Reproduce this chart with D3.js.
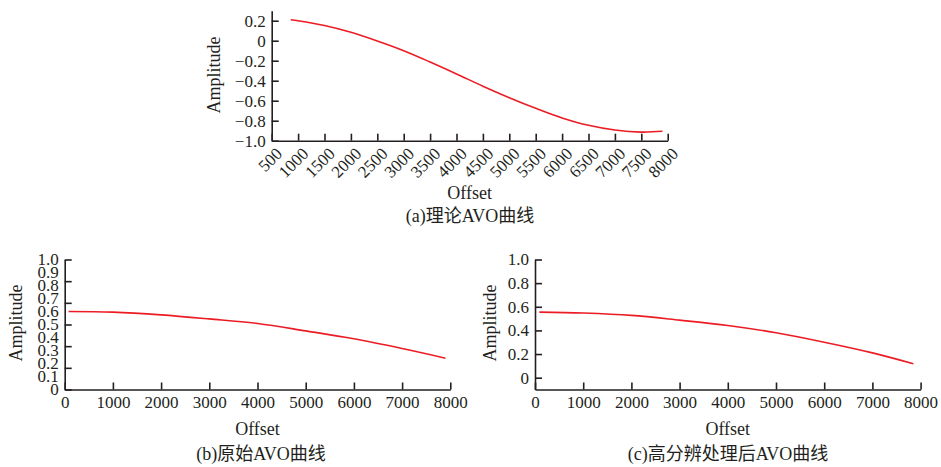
<!DOCTYPE html>
<html>
<head>
<meta charset="utf-8">
<script src="https://cdn.jsdelivr.net/npm/d3@7"></script>
<style>
  html, body { margin: 0; padding: 0; background: #fff; }
  svg { display: block; }
  text { font-family: "Liberation Serif", "Times New Roman", "Noto Sans CJK SC", serif; fill: #231f20; }
</style>
</head>
<body>
<svg id="chart" width="941" height="467"></svg>
<script>
// (a) theoretical AVO curve
const offsetsA = [860, 1000, 1500, 2000, 2500, 3000, 3500, 4000, 4500, 5000, 5500, 6000, 6500, 7000, 7500, 7900];
const ampA     = [0.21, 0.200, 0.152, 0.084, -0.003, -0.10, -0.213, -0.332, -0.455, -0.570, -0.676, -0.772, -0.846, -0.893, -0.914, -0.906];
const xTicksA  = [500, 1000, 1500, 2000, 2500, 3000, 3500, 4000, 4500, 5000, 5500, 6000, 6500, 7000, 7500, 8000];
const yTicksA  = [-1.0, -0.8, -0.6, -0.4, -0.2, 0, 0.2];

// (b) original AVO curve
const offsetsB = [80, 1000, 2000, 3000, 4000, 5000, 6000, 7000, 7900];
const ampB     = [0.600, 0.595, 0.574, 0.543, 0.508, 0.451, 0.39, 0.315, 0.241];
const yLabelsB = [0, 0.1, 0.2, 0.3, 0.4, 0.5, 0.6, 0.7, 0.8, 0.9, 1.0];
const yMarksB  = [0, 1/6, 2/6, 3/6, 4/6, 5/6, 1];

// (c) AVO curve after high-resolution processing
const offsetsC = [90, 1000, 2000, 3000, 4000, 5000, 6000, 7000, 7850];
const ampC     = [0.555, 0.547, 0.527, 0.487, 0.442, 0.38, 0.30, 0.21, 0.118];
const yTicksC  = [0, 0.2, 0.4, 0.6, 0.8, 1.0];

const xTicksBC = [0, 1000, 2000, 3000, 4000, 5000, 6000, 7000, 8000];

const AXIS = "#231f20", LINE = "#ec1c24";
const svg = d3.select("#chart");
svg.append("rect").attr("width", 941).attr("height", 467).attr("fill", "#fff");

const fmt = d => (d < 0 ? "\u2212" : "") + (d === 0 ? "0" : d3.format(".1f")(Math.abs(d)));

function styleAxis(g) {
  g.select(".domain").attr("stroke", AXIS).attr("stroke-width", 1.6);
  g.selectAll(".tick line").attr("stroke", AXIS).attr("stroke-width", 1.6);
  g.selectAll(".tick text").attr("font-size", 17).attr("fill", AXIS)
    .style("font-family", '"Liberation Serif", serif');
}

function panel(cfg) {
  const g = svg.append("g");
  const x = d3.scaleLinear().domain(cfg.xDomain).range(cfg.xRange);
  const y = d3.scaleLinear().domain(cfg.yDomain).range(cfg.yRange);

  // x axis, ticks pointing into the plot
  const xg = g.append("g").attr("transform", `translate(0,${cfg.yRange[0]})`)
    .call(d3.axisBottom(x).tickValues(cfg.xTicks).tickFormat(d3.format("d"))
      .tickSizeInner(-7).tickSizeOuter(0).tickPadding(6));
  styleAxis(xg);
  if (cfg.rotateX) {
    xg.selectAll(".tick text")
      .attr("text-anchor", "end").attr("dy", null).attr("y", null)
      .attr("transform", "translate(11,14) rotate(-45)");
  }
  // y axis
  if (cfg.yMarks) {
    const ym = g.append("g").attr("transform", `translate(${cfg.xRange[0]},0)`)
      .call(d3.axisLeft(y).tickValues(cfg.yMarks).tickFormat("")
        .tickSizeInner(-7).tickSizeOuter(0));
    styleAxis(ym);
    const yl = g.append("g").attr("transform", `translate(${cfg.xRange[0]},0)`)
      .call(d3.axisLeft(y).tickValues(cfg.yTicks).tickFormat(fmt)
        .tickSizeInner(0).tickSizeOuter(0).tickPadding(6));
    styleAxis(yl);
    yl.select(".domain").remove();
  } else {
    const yg = g.append("g").attr("transform", `translate(${cfg.xRange[0]},0)`)
      .call(d3.axisLeft(y).tickValues(cfg.yTicks).tickFormat(fmt)
        .tickSizeInner(-7).tickSizeOuter(0).tickPadding(6));
    styleAxis(yg);
  }

  // curve
  const pts = cfg.xs.map((v, i) => [v, cfg.ys[i]]);
  g.append("path").datum(pts)
    .attr("fill", "none").attr("stroke", LINE).attr("stroke-width", 1.6)
    .attr("d", d3.line().x(d => x(d[0])).y(d => y(d[1])).curve(d3.curveCatmullRom.alpha(0.5)));

  const cx = (cfg.xRange[0] + cfg.xRange[1]) / 2;
  g.append("text").attr("x", cx).attr("y", cfg.offsetY).attr("text-anchor", "middle")
    .attr("font-size", 18).text("Offset");
  g.append("text").attr("transform", `translate(${cfg.ampX},${cfg.ampY}) rotate(-90)`)
    .attr("text-anchor", "middle").attr("font-size", 18).text("Amplitude");
  g.append("text").attr("x", cfg.capX).attr("y", cfg.capY).attr("text-anchor", "middle")
    .attr("font-size", 18).text(cfg.caption);
}

panel({
  xDomain: [500, 8000], xRange: [271.7, 667.7],
  yDomain: [-1.0, 0.3], yRange: [140.7, 10.7],
  xTicks: xTicksA, yTicks: yTicksA, rotateX: true,
  xs: offsetsA, ys: ampA,
  offsetY: 199, ampX: 220, ampY: 75, capX: 470, capY: 222,
  caption: "(a)理论AVO曲线"
});

panel({
  xDomain: [0, 8000], xRange: [64.7, 450.3],
  yDomain: [0, 1], yRange: [389.5, 259.5],
  xTicks: xTicksBC, yTicks: yLabelsB, yMarks: yMarksB,
  xs: offsetsB, ys: ampB,
  offsetY: 435, ampX: 22, ampY: 323, capX: 261, capY: 460,
  caption: "(b)原始AVO曲线"
});

panel({
  xDomain: [0, 8000], xRange: [535, 920.6],
  yDomain: [-0.1, 1.0], yRange: [389.5, 259.5],
  xTicks: xTicksBC, yTicks: yTicksC,
  xs: offsetsC, ys: ampC,
  offsetY: 435, ampX: 496, ampY: 323, capX: 728, capY: 460,
  caption: "(c)高分辨处理后AVO曲线"
});
</script>
</body>
</html>
